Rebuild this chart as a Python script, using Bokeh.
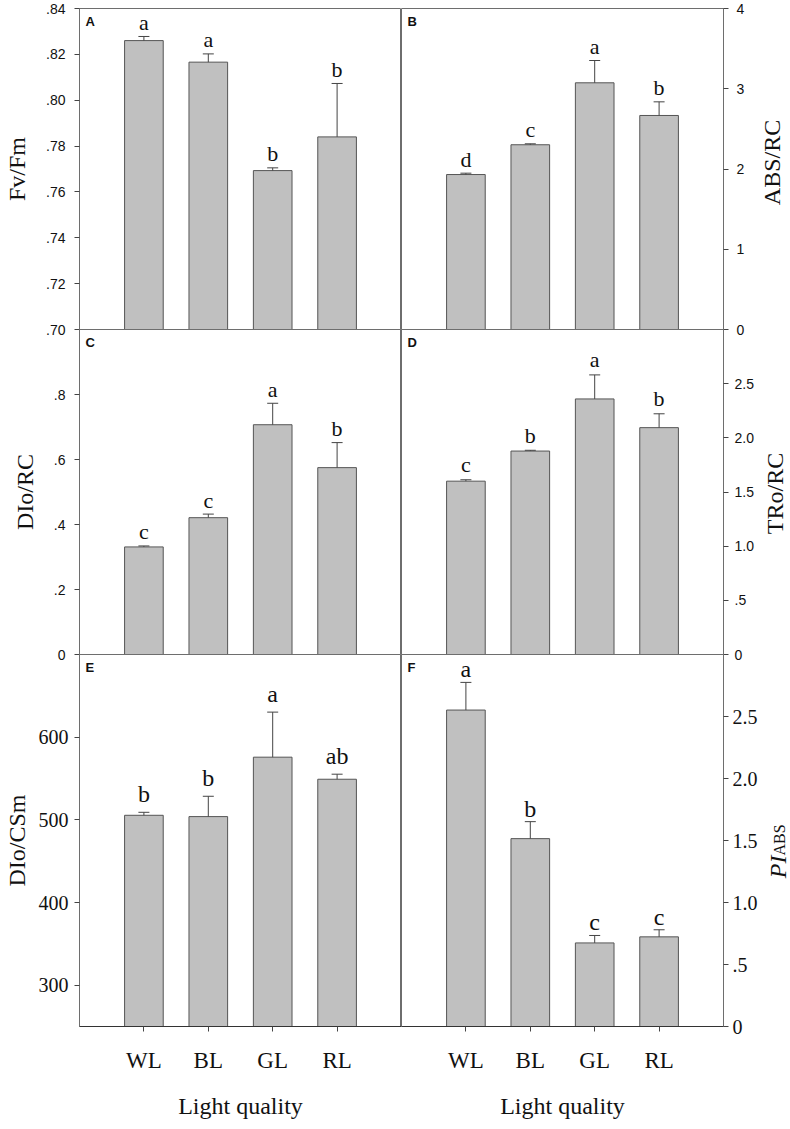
import math
from bokeh.plotting import figure
from bokeh.models import FactorRange, Range1d, FixedTicker, Whisker, TeeHead, ColumnDataSource, Label
from bokeh.layouts import row, column
from bokeh.core.properties import value
from bokeh.embed import file_html
from bokeh.resources import INLINE

# ---------------- data ----------------
cats = ["WL", "BL", "GL", "RL"]

fvfm_mean = [0.8260, 0.8166, 0.7693, 0.7840]
fvfm_se = [0.0018, 0.0036, 0.0012, 0.0233]
fvfm_sig = ["a", "a", "b", "b"]
fvfm_ticks = [0.70, 0.72, 0.74, 0.76, 0.78, 0.80, 0.82, 0.84]
fvfm_tick_labels = [".70", ".72", ".74", ".76", ".78", ".80", ".82", ".84"]

absrc_mean = [1.931, 2.302, 3.074, 2.667]
absrc_se = [0.017, 0.012, 0.278, 0.170]
absrc_sig = ["d", "c", "a", "b"]
absrc_ticks = [0, 1, 2, 3, 4]
absrc_tick_labels = ["0", "1", "2", "3", "4"]

dirc_mean = [0.331, 0.421, 0.707, 0.575]
dirc_se = [0.003, 0.011, 0.066, 0.077]
dirc_sig = ["c", "c", "a", "b"]
dirc_ticks = [0, 0.2, 0.4, 0.6, 0.8]
dirc_tick_labels = ["0", ".2", ".4", ".6", ".8"]

trorc_mean = [1.600, 1.878, 2.359, 2.094]
trorc_se = [0.013, 0.007, 0.222, 0.128]
trorc_sig = ["c", "b", "a", "b"]
trorc_ticks = [0, 0.5, 1.0, 1.5, 2.0, 2.5]
trorc_tick_labels = ["0", ".5", "1.0", "1.5", "2.0", "2.5"]

dicsm_mean = [505.5, 503.9, 575.8, 549.1]
dicsm_se = [3.6, 24.6, 54.5, 6.1]
dicsm_sig = ["b", "b", "a", "ab"]
dicsm_ticks = [300, 400, 500, 600]
dicsm_tick_labels = ["300", "400", "500", "600"]

piabs_mean = [2.552, 1.515, 0.674, 0.723]
piabs_se = [0.223, 0.137, 0.060, 0.057]
piabs_sig = ["a", "b", "c", "c"]
piabs_ticks = [0, 0.5, 1.0, 1.5, 2.0, 2.5]
piabs_tick_labels = ["0", ".5", "1.0", "1.5", "2.0", "2.5"]

x_title = "Light quality"

# ---------------- style ----------------
SERIF = "Liberation Serif"
SANS = "Liberation Sans"
FW = 322
LEFT_B = 79
RIGHT_B = 36
LAB_W = 31
BAR_FILL = "#c0c0c0"
BAR_LINE = "#555555"
AX = "#6e6e6e"
TXT = "#111111"


def make_panel(letter, means, ses, sig, yr, ticks, tick_labels, side, frame_h,
               border_top, border_bottom, tick_font, tick_size, tick_standoff=8,
               ylabel=None, label_standoff=10, bottom_axis=False,
               sig_size="22px", sig_off=-14):
    left = side == "left"
    p = figure(x_range=FactorRange(factors=cats, range_padding=0.25),
               y_range=Range1d(yr[0], yr[1]),
               frame_width=FW, frame_height=frame_h,
               output_backend="svg", toolbar_location=None,
               x_axis_location="below" if bottom_axis else None,
               y_axis_location=side,
               min_border_left=LEFT_B if left else 0,
               min_border_right=0 if left else RIGHT_B,
               min_border_top=border_top, min_border_bottom=border_bottom,
               border_fill_alpha=0, background_fill_alpha=0,
               outline_line_color=AX, outline_line_width=1)
    p.xgrid.visible = False
    p.ygrid.visible = False

    src = ColumnDataSource(dict(
        x=cats, mean=means,
        upper=[m + s for m, s in zip(means, ses)],
        sig=sig))

    p.vbar(x="x", top="mean", bottom=0, width=0.6, source=src,
           fill_color=BAR_FILL, line_color=BAR_LINE, line_width=1)
    p.add_layout(Whisker(source=src, base="x", lower="mean", upper="upper",
                         dimension="height", line_color="#444444", line_width=1,
                         upper_head=TeeHead(size=11, line_color="#444444", line_width=1),
                         lower_head=None, level="overlay"))
    p.text(x="x", y="upper", text="sig", source=src, text_align="center",
           text_baseline="alphabetic", y_offset=sig_off,
           text_font=value(SERIF), text_font_size=sig_size, text_color=TXT)

    ax = p.yaxis[0]
    ax.ticker = FixedTicker(ticks=ticks)
    ax.major_label_overrides = {t: l for t, l in zip(ticks, tick_labels)}
    ax.axis_line_color = AX
    ax.major_tick_line_color = "#444444"
    ax.major_tick_out = 5
    ax.major_tick_in = 0
    ax.minor_tick_line_color = None
    ax.major_label_text_font = tick_font
    ax.major_label_text_font_size = tick_size
    ax.major_label_text_color = TXT
    ax.major_label_standoff = tick_standoff
    if left and ylabel:
        ax.axis_label = ylabel
        ax.axis_label_text_font = SERIF
        ax.axis_label_text_font_size = "24px"
        ax.axis_label_text_font_style = "normal"
        ax.axis_label_text_color = TXT
        ax.axis_label_standoff = label_standoff

    if bottom_axis:
        xa = p.xaxis[0]
        xa.axis_line_color = "#333333"
        xa.major_tick_line_color = "#444444"
        xa.major_tick_out = 5
        xa.major_tick_in = 0
        xa.major_label_text_font = SERIF
        xa.major_label_text_font_size = "23px"
        xa.major_label_text_color = TXT
        xa.major_label_standoff = 16
        xa.axis_label = x_title
        xa.axis_label_text_font = SERIF
        xa.axis_label_text_font_size = "24px"
        xa.axis_label_text_font_style = "normal"
        xa.axis_label_text_color = TXT
        xa.axis_label_standoff = 17

    p.add_layout(Label(x=6, y=frame_h - 5, x_units="screen", y_units="screen",
                       text=letter, text_font=SANS, text_font_style="bold",
                       text_font_size="13px", text_baseline="top", text_color=TXT))
    return p


def label_fig(frame_h, border_top, border_bottom):
    q = figure(frame_width=LAB_W, frame_height=frame_h,
               x_range=Range1d(0, 1), y_range=Range1d(0, 1),
               output_backend="svg", toolbar_location=None,
               x_axis_location=None, y_axis_location=None,
               min_border_left=0, min_border_right=0,
               min_border_top=border_top, min_border_bottom=border_bottom,
               outline_line_color=None, border_fill_alpha=0, background_fill_alpha=0)
    q.xgrid.visible = False
    q.ygrid.visible = False
    return q


def side_title(q, text, x, y, **kw):
    q.add_layout(Label(x=x, y=y, x_units="screen", y_units="screen",
                       text=text, angle=math.pi / 2,
                       text_font=SERIF, text_color=TXT, **kw))


H1, H2, H3 = 321, 325, 372
BB3 = 100

pA = make_panel("A", fvfm_mean, fvfm_se, fvfm_sig, (0.70, 0.84), fvfm_ticks, fvfm_tick_labels,
                "left", H1, 8, 8, SANS, "14px", tick_standoff=9,
                ylabel="Fv/Fm", label_standoff=13, sig_off=-14)
pB = make_panel("B", absrc_mean, absrc_se, absrc_sig, (0, 4), absrc_ticks, absrc_tick_labels,
                "right", H1, 8, 8, SANS, "14px", tick_standoff=8, sig_off=-14)
lB = label_fig(H1, 8, 8)
side_title(lB, "ABS/RC", 12, 167, text_align="center", text_baseline="middle",
           text_font_size="24px")

pC = make_panel("C", dirc_mean, dirc_se, dirc_sig, (0, 1.0), dirc_ticks, dirc_tick_labels,
                "left", H2, 0, 8, SANS, "14px", tick_standoff=9,
                ylabel="DIo/RC", label_standoff=13, sig_off=-14)
pD = make_panel("D", trorc_mean, trorc_se, trorc_sig, (0, 3.0), trorc_ticks, trorc_tick_labels,
                "right", H2, 0, 8, SANS, "14px", tick_standoff=6, sig_off=-15)
lD = label_fig(H2, 0, 8)
side_title(lD, "TRo/RC", 15, 161, text_align="center", text_baseline="middle",
           text_font_size="24px")

pE = make_panel("E", dicsm_mean, dicsm_se, dicsm_sig, (250, 700), dicsm_ticks, dicsm_tick_labels,
                "left", H3, 0, BB3, SERIF, "20px", tick_standoff=6,
                ylabel="DIo/CSm", label_standoff=6,
                bottom_axis=True, sig_size="24px", sig_off=-18)
pF = make_panel("F", piabs_mean, piabs_se, piabs_sig, (0, 3.0), piabs_ticks, piabs_tick_labels,
                "right", H3, 0, BB3, SERIF, "20px", tick_standoff=4,
                bottom_axis=True, sig_size="24px", sig_off=-13)
lF = label_fig(H3, 0, BB3)
# PI_ABS axis title: italic "PI" with subscript "ABS"
side_title(lF, "PI", 17, 171, text_align="right", text_baseline="alphabetic",
           text_font_size="24px", text_font_style="italic")
side_title(lF, "ABS", 19, 171, text_align="left", text_baseline="alphabetic",
           text_font_size="16px")

top = row(pA, pB, lB)
mid = row(pC, pD, lD, margin=(-8, 0, 0, 0))
bot = row(pE, pF, lF, margin=(-8, 0, 0, 0))
layout = column(top, mid, bot)

open("out.html", "w").write(file_html(layout, INLINE))
